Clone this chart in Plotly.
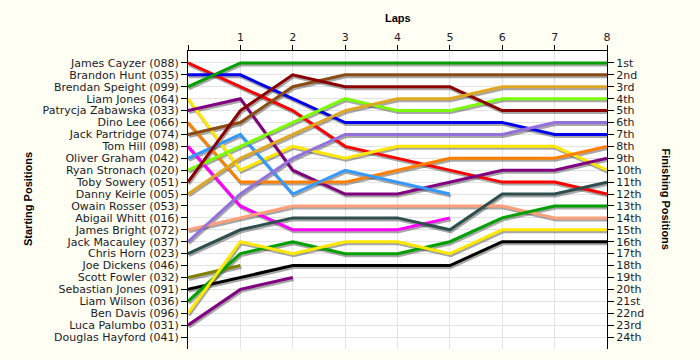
import plotly.graph_objects as go

laps = [0, 1, 2, 3, 4, 5, 6, 7, 8]
lap_labels = ["", "1", "2", "3", "4", "5", "6", "7", "8"]

drivers = [
    "James Cayzer (088)", "Brandon Hunt (035)", "Brendan Speight (099)", "Liam Jones (064)",
    "Patrycja Zabawska (033)", "Dino Lee (066)", "Jack Partridge (074)", "Tom Hill (098)",
    "Oliver Graham (042)", "Ryan Stronach (020)", "Toby Sowery (051)", "Danny Keirle (005)",
    "Owain Rosser (053)", "Abigail Whitt (016)", "James Bright (072)", "Jack Macauley (037)",
    "Chris Horn (023)", "Joe Dickens (046)", "Scott Fowler (032)", "Sebastian Jones (091)",
    "Liam Wilson (036)", "Ben Davis (096)", "Luca Palumbo (031)", "Douglas Hayford (041)",
]

finish_labels = ["1st", "2nd", "3rd", "4th", "5th", "6th", "7th", "8th", "9th", "10th",
                 "11th", "12th", "13th", "14th", "15th", "16th", "17th", "18th", "19th",
                 "20th", "21st", "22nd", "23rd", "24th"]

# position of each driver after each lap (lap 0 = grid); None = retired / not started
pos_cayzer = [1, 3, 5, 8, 9, 10, 11, 11, 12]
pos_hunt = [2, 2, 4, 6, 6, 6, 6, 7, 7]
pos_speight = [3, 1, 1, 1, 1, 1, 1, 1, 1]
pos_ljones = [4, 10, 8, 9, 8, 8, 8, 8, 10]
pos_zabawska = [5, 4, 10, 12, 12, 11, 10, 10, 9]
pos_lee = [6, 11, 11, 11, 10, 9, 9, 9, 8]
pos_partridge = [7, 6, 3, 2, 2, 2, 2, 2, 2]
pos_hill = [8, 13, 15, 15, 15, 14, None, None, None]
pos_graham = [9, 7, 12, 10, 11, 12, None, None, None]
pos_stronach = [10, 8, 6, 4, 5, 5, 4, 4, 4]
pos_sowery = [11, 5, 2, 3, 3, 3, 5, 5, 5]
pos_keirle = [12, 9, 7, 5, 4, 4, 3, 3, 3]
pos_bright = [15, 14, 13, 13, 13, 13, 13, 14, 14]
pos_macauley = [16, 12, 9, 7, 7, 7, 7, 6, 6]
pos_horn = [17, 15, 14, 14, 14, 15, 12, 12, 11]
pos_fowler = [19, 18, None, None, None, None, None, None, None]
pos_sjones = [20, 19, 18, 18, 18, 18, 16, 16, 16]
pos_wilson = [21, 17, 16, 17, 17, 16, 14, 13, 13]
pos_davis = [22, 16, 17, 16, 16, 17, 15, 15, 15]
pos_palumbo = [23, 20, 19, None, None, None, None, None, None]

series = [
    ("James Cayzer (088)", pos_cayzer, "#ff0000"),
    ("Brandon Hunt (035)", pos_hunt, "#0000ee"),
    ("Brendan Speight (099)", pos_speight, "#00a000"),
    ("Liam Jones (064)", pos_ljones, "#ffe800"),
    ("Patrycja Zabawska (033)", pos_zabawska, "#800080"),
    ("Dino Lee (066)", pos_lee, "#ff8000"),
    ("Jack Partridge (074)", pos_partridge, "#8b4c14"),
    ("Tom Hill (098)", pos_hill, "#ff00ff"),
    ("Oliver Graham (042)", pos_graham, "#3399ff"),
    ("Ryan Stronach (020)", pos_stronach, "#7cfc00"),
    ("Toby Sowery (051)", pos_sowery, "#8b0000"),
    ("Danny Keirle (005)", pos_keirle, "#e0a820"),
    ("James Bright (072)", pos_bright, "#ffa07a"),
    ("Jack Macauley (037)", pos_macauley, "#9370db"),
    ("Chris Horn (023)", pos_horn, "#2f4f4f"),
    ("Scott Fowler (032)", pos_fowler, "#808000"),
    ("Sebastian Jones (091)", pos_sjones, "#000000"),
    ("Liam Wilson (036)", pos_wilson, "#00a000"),
    ("Ben Davis (096)", pos_davis, "#ffe800"),
    ("Luca Palumbo (031)", pos_palumbo, "#800080"),
]

W, H = 700, 360
ML, MR, MT, MB = 188, 93, 51, 11
PW, PH = W - ML - MR, H - MT - MB
YMAX = 25
sx = 8 / PW * 1.0      # shadow shift: 1px right
sy = YMAX / PH * 2.0   # shadow shift: 2px down

FONT = "DejaVu Sans"
TFONT = "Liberation Sans"
fig = go.Figure()

# empty traces so that the visible axes get their subplots
fig.add_trace(go.Scatter(x=[], y=[], xaxis="x", yaxis="y", showlegend=False, hoverinfo="skip"))
fig.add_trace(go.Scatter(x=[], y=[], xaxis="x", yaxis="y2", showlegend=False, hoverinfo="skip"))

for name, ys, col in series:
    fig.add_trace(go.Scatter(x=laps, y=ys, mode="lines", xaxis="x2", yaxis="y3",
                             line=dict(color="rgba(60,60,60,0.45)", width=3),
                             hoverinfo="skip", showlegend=False))
for name, ys, col in series:
    fig.add_trace(go.Scatter(x=laps, y=ys, mode="lines", xaxis="x3", yaxis="y4",
                             name=name, line=dict(color=col, width=3), showlegend=False))

tick_font = dict(family=FONT, size=11, color="#1a1a2a")
fig.update_layout(
    width=W, height=H,
    margin=dict(l=ML, r=MR, t=MT, b=MB),
    paper_bgcolor="#fffff4", plot_bgcolor="#ffffff",
    showlegend=False,
    xaxis=dict(side="top", range=[0, 8], tickvals=laps, ticktext=lap_labels,
               showgrid=True, gridcolor="#e3e3e3", gridwidth=1, zeroline=False,
               showline=True, linecolor="#000000", linewidth=1,
               ticks="outside", ticklen=5, tickcolor="#000000", tickfont=tick_font),
    yaxis=dict(range=[YMAX, 0], tickvals=list(range(1, 25)), ticktext=drivers,
               showgrid=True, gridcolor="#e3e3e3", gridwidth=1, zeroline=False,
               showline=True, linecolor="#000000", linewidth=1,
               ticks="outside", ticklen=6, tickcolor="#000000", tickfont=tick_font),
    yaxis2=dict(overlaying="y", side="right", anchor="x", range=[YMAX, 0],
                tickvals=list(range(1, 25)), ticktext=finish_labels,
                showgrid=False, zeroline=False,
                showline=True, linecolor="#000000", linewidth=1,
                ticks="outside", ticklen=6, tickcolor="#000000", tickfont=tick_font),
    xaxis2=dict(overlaying="x", range=[0 - sx, 8 - sx], visible=False),
    yaxis3=dict(overlaying="y", anchor="x2", range=[YMAX - sy, 0 - sy], visible=False),
    xaxis3=dict(overlaying="x", range=[0, 8], visible=False),
    yaxis4=dict(overlaying="y", anchor="x3", range=[YMAX, 0], visible=False),
    annotations=[
        dict(text="<b>Laps</b>", xref="paper", yref="paper",
             x=(397.5 - ML) / PW, y=1 + (MT - 18) / PH, xanchor="center", yanchor="middle",
             showarrow=False, font=dict(family=TFONT, size=11, color="#000000")),
        dict(text="<b>Starting Positions</b>", xref="paper", yref="paper",
             x=(28 - ML) / PW, y=1 - (199 - MT) / PH, xanchor="center", yanchor="middle",
             textangle=-90,
             showarrow=False, font=dict(family=TFONT, size=11, color="#000000")),
        dict(text="<b>Finishing Positions</b>", xref="paper", yref="paper",
             x=(665.5 - ML) / PW, y=1 - (199 - MT) / PH, xanchor="center", yanchor="middle",
             textangle=90,
             showarrow=False, font=dict(family=TFONT, size=11, color="#000000")),
    ],
)

fig.write_html("out.html", config={"displayModeBar": False},
               post_script="document.body.style.margin='0';")
